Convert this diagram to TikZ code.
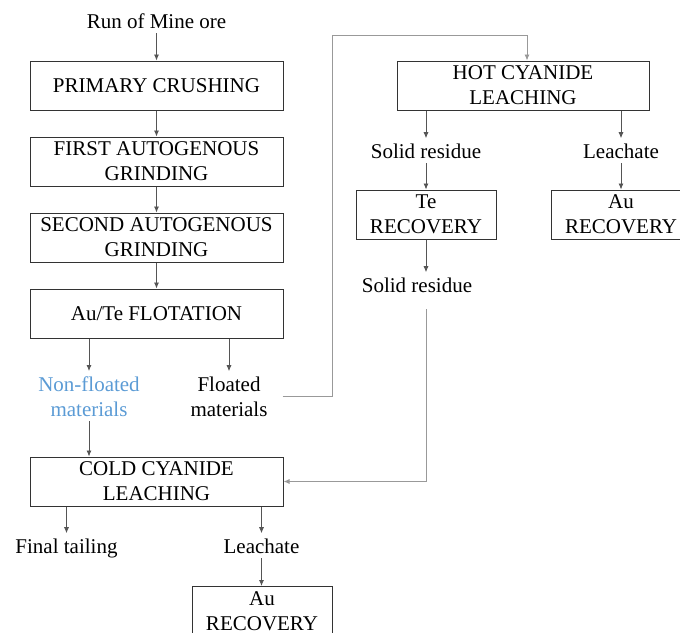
\documentclass[tikz,border=0pt]{standalone}
\usepackage{fontspec}
\setmainfont{Liberation Serif}
\usetikzlibrary{arrows.meta}
\definecolor{boxline}{HTML}{333333}
\definecolor{arrline}{HTML}{555555}
\definecolor{loopline}{HTML}{999999}
\definecolor{nfblue}{HTML}{5B9BD5}
\tikzset{
  txt/.style={font=\fontsize{21}{25}\selectfont, align=center},
  lbl/.style={txt, inner sep=5pt, anchor=base},
  procbox/.style={txt, draw=boxline, line width=1pt, inner sep=2pt, minimum height=49pt, minimum width=253pt},
  smallbox/.style={procbox, minimum width=140pt},
  arr/.style={draw=arrline, line width=0.8pt, -{Latex[length=6pt,width=5pt]}},
  loop/.style={draw=loopline, line width=0.9pt},
  looparr/.style={loop, -{Latex[length=6pt,width=5pt]}}
}
\begin{document}
\begin{tikzpicture}[x=1pt, y=-1pt]
\useasboundingbox (0,0) rectangle (680,632);
\clip (0,0) rectangle (680,632);
% left column
\node[lbl] (rom) at (156.5,28) {Run of Mine ore};
\node[procbox] (pc) at (156.5,85.5) {PRIMARY CRUSHING};
\node[procbox] (fag) at (156.5,161.5) {FIRST AUTOGENOUS\\GRINDING};
\node[procbox] (sag) at (156.5,237.5) {SECOND AUTOGENOUS\\GRINDING};
\node[procbox] (flot) at (156.5,313.5) {Au/Te FLOTATION};
\node[lbl, text=nfblue] (nf) at (89,416) {Non-floated\\materials};
\node[lbl] (fl) at (229,416) {Floated\\materials};
\node[procbox] (cold) at (156.5,481.5) {COLD CYANIDE\\LEACHING};
\node[lbl] (ft) at (66.5,553) {Final tailing};
\node[lbl] (lb) at (261.5,553) {Leachate};
\node[smallbox] (aub) at (262,611) {Au\\RECOVERY};
% right column
\node[procbox, minimum width=252pt] (hot) at (523,85.5) {HOT CYANIDE\\LEACHING};
\node[lbl] (sr1) at (426,158) {Solid residue};
\node[lbl] (lr) at (621,158) {Leachate};
\node[smallbox] (te) at (426,214.5) {Te\\RECOVERY};
\node[smallbox] (aur) at (621,214.5) {Au\\RECOVERY};
\node[lbl] (sr2) at (417,292) {Solid residue};
\coordinate (c1) at (332,35);
% connectors
\draw[arr] (rom.south) -- (pc.north);
\draw[arr] (pc.south) -- (fag.north);
\draw[arr] (fag.south) -- (sag.north);
\draw[arr] (sag.south) -- (flot.north);
\draw[arr] (nf.north |- flot.south) -- (nf.north);
\draw[arr] (fl.north |- flot.south) -- (fl.north);
\draw[arr] (nf.south) -- (nf.south |- cold.north);
\draw[arr] (ft.north |- cold.south) -- (ft.north);
\draw[arr] (lb.north |- cold.south) -- (lb.north);
\draw[arr] (lb.south) -- (lb.south |- aub.north);
\draw[arr] (sr1.north |- hot.south) -- (sr1.north);
\draw[arr] (lr.north |- hot.south) -- (lr.north);
\draw[arr] (sr1.south) -- (te.north);
\draw[arr] (lr.south) -- (lr.south |- aur.north);
\draw[arr] (te.south) -- (te.south |- sr2.north);
\draw[looparr] ([xshift=10pt]fl.east) -| (c1) -| ([xshift=4pt]hot.north);
\draw[looparr] ([yshift=-12pt]sr2.south -| te.south) |- (cold.east);
\end{tikzpicture}
\end{document}
